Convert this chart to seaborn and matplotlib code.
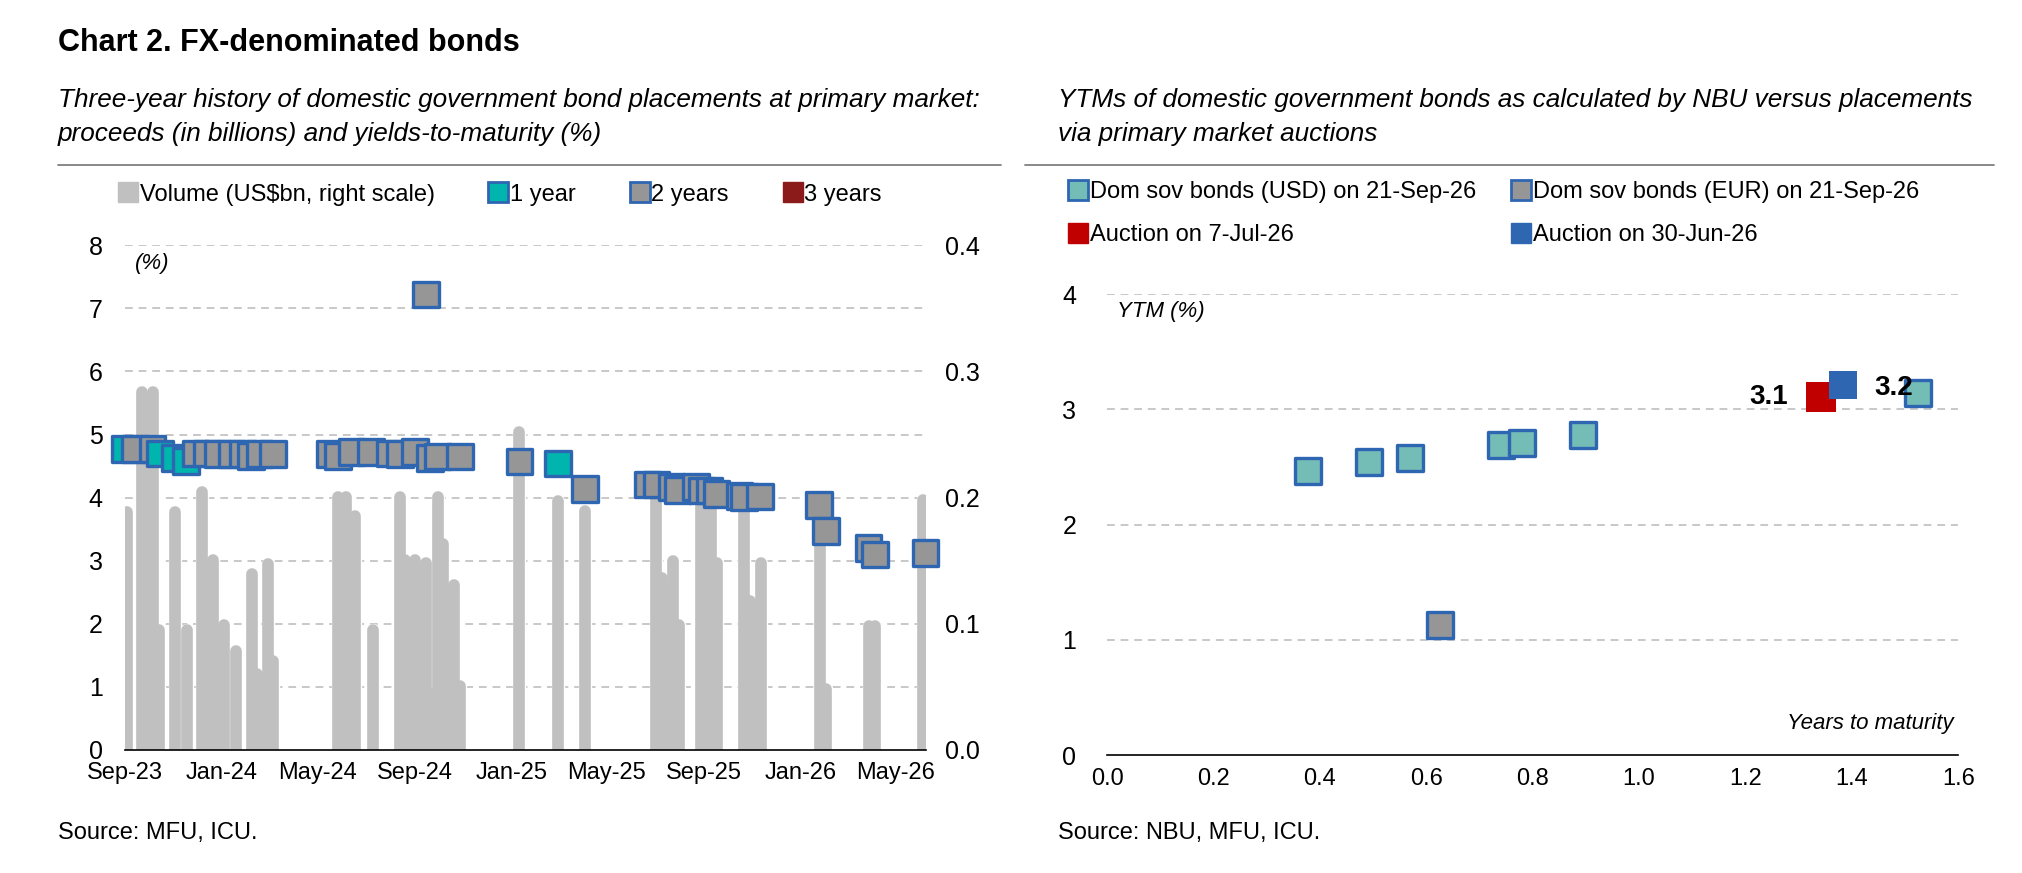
import matplotlib
matplotlib.use("Agg")
import matplotlib.pyplot as plt
import matplotlib.dates as mdates
import matplotlib.patheffects as pe
from matplotlib.lines import Line2D
import numpy as np
import pandas as pd
import seaborn as sns

# ---- data: left panel (primary market placements) ----
bar_dates = ["2023-09-04", "2023-09-22", "2023-10-06", "2023-10-14", "2023-11-03", "2023-11-18",
             "2023-12-07", "2023-12-21", "2024-01-04", "2024-01-19", "2024-02-08", "2024-02-15",
             "2024-02-29", "2024-03-06", "2024-05-27", "2024-06-06", "2024-06-18", "2024-07-10",
             "2024-08-13", "2024-08-19", "2024-09-01", "2024-09-15", "2024-09-21", "2024-09-30",
             "2024-10-06", "2024-10-20", "2024-10-28", "2025-01-11", "2025-03-01", "2025-04-04",
             "2025-07-03", "2025-07-10", "2025-07-24", "2025-08-01", "2025-08-28", "2025-09-04",
             "2025-09-10", "2025-09-18", "2025-10-22", "2025-10-29", "2025-11-12", "2026-01-26",
             "2026-02-02", "2026-03-28", "2026-04-05", "2026-06-04"]
bar_volume = [0.193, 0.288, 0.288, 0.100, 0.193, 0.100, 0.209, 0.155, 0.104, 0.083, 0.144, 0.065,
              0.152, 0.075, 0.205, 0.205, 0.190, 0.100, 0.205, 0.155, 0.155, 0.153, 0.050, 0.205,
              0.168, 0.135, 0.055, 0.257, 0.202, 0.194, 0.208, 0.141, 0.154, 0.104, 0.200, 0.154,
              0.200, 0.153, 0.200, 0.123, 0.153, 0.203, 0.053, 0.103, 0.103, 0.203]

y1_dates = ["2023-09-01", "2023-10-15", "2023-11-03", "2023-11-17", "2025-03-01"]
y1_ytm = [4.77, 4.70, 4.63, 4.58, 4.54]

y2_dates = ["2023-09-14", "2023-10-06", "2023-11-29", "2023-12-13", "2023-12-27", "2024-01-14",
            "2024-01-28", "2024-02-07", "2024-02-18", "2024-03-06", "2024-05-17", "2024-05-27",
            "2024-06-13", "2024-07-08", "2024-08-01", "2024-08-13", "2024-09-01", "2024-09-15",
            "2024-09-20", "2024-09-30", "2024-10-28", "2025-01-11", "2025-04-04", "2025-06-22",
            "2025-07-03", "2025-07-22", "2025-07-30", "2025-08-22", "2025-08-29", "2025-09-08",
            "2025-09-17", "2025-10-16", "2025-10-22", "2025-11-11", "2026-01-24", "2026-02-02",
            "2026-03-28", "2026-04-05", "2026-06-08"]
y2_ytm = [4.77, 4.77, 4.70, 4.70, 4.69, 4.69, 4.69, 4.66, 4.69, 4.69, 4.69, 4.66,
          4.72, 4.72, 4.70, 4.69, 4.72, 7.22, 4.63, 4.65, 4.65, 4.57, 4.14, 4.21,
          4.21, 4.17, 4.12, 4.17, 4.11, 4.11, 4.06, 4.03, 4.01, 4.02, 3.88, 3.47,
          3.20, 3.10, 3.12]

tick_dates = ["2023-09-01", "2024-01-01", "2024-05-01", "2024-09-01", "2025-01-01",
              "2025-05-01", "2025-09-01", "2026-01-01", "2026-05-01"]
month_labels = ["Sep-23", "Jan-24", "May-24", "Sep-24", "Jan-25", "May-25", "Sep-25", "Jan-26", "May-26"]

# ---- data: right panel (YTM curve) ----
usd_years = [0.377, 0.492, 0.569, 0.740, 0.779, 0.894, 1.524]
usd_ytm = [2.47, 2.54, 2.58, 2.69, 2.71, 2.78, 3.14]
eur_years = [0.626]
eur_ytm = [1.13]
auc_jul_years, auc_jul_ytm = [1.342], [3.11]
auc_jun_years, auc_jun_ytm = [1.384], [3.21]

# ---- style ----
sns.set_style("white")
plt.rcParams["font.family"] = ["Liberation Sans", "DejaVu Sans"]
plt.rcParams["font.size"] = 17
plt.rcParams["text.color"] = "black"
plt.rcParams["xtick.color"] = "black"
plt.rcParams["ytick.color"] = "black"

BAR = "#c0c0c0"
TEAL = "#00b5ad"
GREY = "#969696"
EDGE = "#2e66b1"
DARKRED = "#8b1a1a"
USD_C = "#74bcb6"
RED = "#c00000"
BLUE = "#2e66b1"
GRID = "#c8c8c8"
MS = 340      # marker area for bond squares
BAR_PT = 8.4  # bar width in points

fig = plt.figure(figsize=(20.22, 8.73), dpi=100)

# ================= left panel =================
ax = fig.add_axes([0.0618, 0.141, 0.396, 0.578])
axv = ax.twinx()
axv.set_zorder(ax.get_zorder() - 1)
ax.patch.set_visible(False)
ax.set_xlim(pd.Timestamp("2023-09-01"), pd.Timestamp("2026-06-08"))
ax.set_ylim(0, 8)
axv.set_ylim(0, 0.4)

# bars with rounded tops: round-capped lines, trimmed by the cap radius
ax_h_pt = ax.get_position().height * fig.get_figheight() * 72
cap = (BAR_PT / 2) / ax_h_pt * 0.4
bar_x = mdates.date2num(pd.to_datetime(bar_dates))
axv.vlines(bar_x, 0, np.array(bar_volume) - cap, colors=BAR, linewidth=BAR_PT,
           capstyle="round", zorder=2,
           path_effects=[pe.Stroke(linewidth=BAR_PT + 1.2, foreground="white"), pe.Normal()])
for v in np.arange(0.05, 0.401, 0.05):
    axv.axhline(v, color=GRID, linestyle=(0, (4, 3)), linewidth=1.4, zorder=1)

pts = pd.concat([
    pd.DataFrame({"date": pd.to_datetime(y1_dates), "ytm": y1_ytm, "tenor": "1 year"}),
    pd.DataFrame({"date": pd.to_datetime(y2_dates), "ytm": y2_ytm, "tenor": "2 years"}),
]).sort_values("date")
sns.scatterplot(data=pts, x="date", y="ytm", hue="tenor", palette={"1 year": TEAL, "2 years": GREY},
                marker="s", s=MS, edgecolor=EDGE, linewidth=2.4, legend=False, ax=ax,
                zorder=5, clip_on=False)

ax.set_xlim(pd.Timestamp("2023-09-01"), pd.Timestamp("2026-06-08"))
ax.set_ylim(0, 8)
ax.set_yticks(range(0, 9))
axv.set_yticks(np.arange(0, 0.41, 0.1))
axv.set_yticklabels([f"{v:.1f}" for v in np.arange(0, 0.41, 0.1)])
ax.set_xticks(pd.to_datetime(tick_dates))
ax.set_xticklabels(month_labels)
ax.xaxis.set_minor_locator(mdates.MonthLocator())
ax.tick_params(axis="x", which="major", length=5, width=1, color="black", pad=4, labelsize=17)
ax.tick_params(axis="x", which="minor", length=3, width=1, color="black")
ax.tick_params(axis="y", length=0, pad=16, labelsize=18)
axv.tick_params(axis="y", length=0, pad=14, labelsize=18)
ax.set_xlabel("")
ax.set_ylabel("")
for a in (ax, axv):
    for s in ("top", "left", "right", "bottom"):
        a.spines[s].set_visible(False)
ax.spines["bottom"].set_visible(True)
ax.spines["bottom"].set_color("black")
ax.spines["bottom"].set_linewidth(1.2)
ax.text(0.012, 0.985, "(%)", transform=ax.transAxes, style="italic", fontsize=16, va="top")

left_handles = [
    Line2D([], [], marker="s", linestyle="", markersize=15, markerfacecolor=BAR, markeredgecolor=BAR),
    Line2D([], [], marker="s", linestyle="", markersize=14, markerfacecolor=TEAL, markeredgecolor=EDGE, markeredgewidth=2),
    Line2D([], [], marker="s", linestyle="", markersize=14, markerfacecolor=GREY, markeredgecolor=EDGE, markeredgewidth=2),
    Line2D([], [], marker="s", linestyle="", markersize=14, markerfacecolor=DARKRED, markeredgecolor=DARKRED),
]
fig.legend(left_handles, ["Volume (US$bn, right scale)", "1 year", "2 years", "3 years"],
           loc="center left", bbox_to_anchor=(0.048, 0.777), ncol=4, frameon=False,
           handlelength=0.8, handletextpad=0.1, columnspacing=2.3, fontsize=17)

# ================= right panel =================
bx = fig.add_axes([0.5475, 0.135, 0.421, 0.528])
for v in (1, 2, 3, 4):
    bx.axhline(v, color=GRID, linestyle=(0, (4, 3)), linewidth=1.4, zorder=1)
sns.scatterplot(x=usd_years, y=usd_ytm, marker="s", s=MS, color=USD_C, edgecolor=EDGE,
                linewidth=2.4, ax=bx, zorder=4, clip_on=False)
sns.scatterplot(x=eur_years, y=eur_ytm, marker="s", s=MS, color=GREY, edgecolor=EDGE,
                linewidth=2.4, ax=bx, zorder=4)
sns.scatterplot(x=auc_jul_years, y=auc_jul_ytm, marker="s", s=470, color=RED, edgecolor=RED,
                linewidth=0, ax=bx, zorder=5)
sns.scatterplot(x=auc_jun_years, y=auc_jun_ytm, marker="s", s=400, color=BLUE, edgecolor=BLUE,
                linewidth=0, ax=bx, zorder=6)
bx.annotate(f"{auc_jul_ytm[0]:.1f}", (auc_jul_years[0], auc_jul_ytm[0]), xytext=(-24, 0),
            textcoords="offset points", ha="right", va="center", fontsize=20, fontweight="bold", zorder=7)
bx.annotate(f"{auc_jun_ytm[0]:.1f}", (auc_jun_years[0], auc_jun_ytm[0]), xytext=(22, -2),
            textcoords="offset points", ha="left", va="center", fontsize=20, fontweight="bold", zorder=7)

bx.set_xlim(0, 1.6)
bx.set_ylim(0, 4)
bx.set_xticks(np.arange(0, 1.61, 0.2))
bx.set_xticklabels([f"{v:.1f}" for v in np.arange(0, 1.61, 0.2)])
bx.set_yticks(range(0, 5))
bx.tick_params(axis="x", length=5, width=1, color="black", pad=4, labelsize=17)
bx.tick_params(axis="y", length=0, pad=22, labelsize=18)
for s in ("top", "left", "right"):
    bx.spines[s].set_visible(False)
bx.spines["bottom"].set_color("black")
bx.spines["bottom"].set_linewidth(1.2)
bx.text(0.012, 0.985, "YTM (%)", transform=bx.transAxes, style="italic", fontsize=16, va="top")
bx.text(0.995, 0.045, "Years to maturity", transform=bx.transAxes, style="italic", fontsize=16,
        ha="right", va="bottom")

right_handles = [
    Line2D([], [], marker="s", linestyle="", markersize=14, markerfacecolor=USD_C, markeredgecolor=EDGE, markeredgewidth=2),
    Line2D([], [], marker="s", linestyle="", markersize=15, markerfacecolor=RED, markeredgecolor=RED),
    Line2D([], [], marker="s", linestyle="", markersize=14, markerfacecolor=GREY, markeredgecolor=EDGE, markeredgewidth=2),
    Line2D([], [], marker="s", linestyle="", markersize=15, markerfacecolor=BLUE, markeredgecolor=BLUE),
]
fig.legend(right_handles, ["Dom sov bonds (USD) on 21-Sep-26", "Auction on 7-Jul-26",
                           "Dom sov bonds (EUR) on 21-Sep-26", "Auction on 30-Jun-26"],
           loc="upper left", bbox_to_anchor=(0.518, 0.817), ncol=2, frameon=False,
           handlelength=0.8, handletextpad=0.1, columnspacing=1.5, labelspacing=0.88, fontsize=17)

# ================= titles, rules, sources =================
fig.text(0.0287, 0.951, "Chart 2. FX-denominated bonds", fontsize=22, fontweight="bold", va="center")
fig.text(0.0287, 0.866, "Three-year history of domestic government bond placements at primary market:\n"
         "proceeds (in billions) and yields-to-maturity (%)", fontsize=18.8, style="italic",
         va="center", linespacing=1.55)
fig.text(0.523, 0.866, "YTMs of domestic government bonds as calculated by NBU versus placements\n"
         "via primary market auctions", fontsize=18.8, style="italic", va="center", linespacing=1.55)
fig.add_artist(Line2D([0.0287, 0.495], [0.811, 0.811], color="#7f7f7f", linewidth=1.3))
fig.add_artist(Line2D([0.507, 0.986], [0.811, 0.811], color="#7f7f7f", linewidth=1.3))
fig.text(0.0287, 0.046, "Source: MFU, ICU.", fontsize=17, va="center")
fig.text(0.523, 0.046, "Source: NBU, MFU, ICU.", fontsize=17, va="center")

fig.savefig("out.png", dpi=100)
